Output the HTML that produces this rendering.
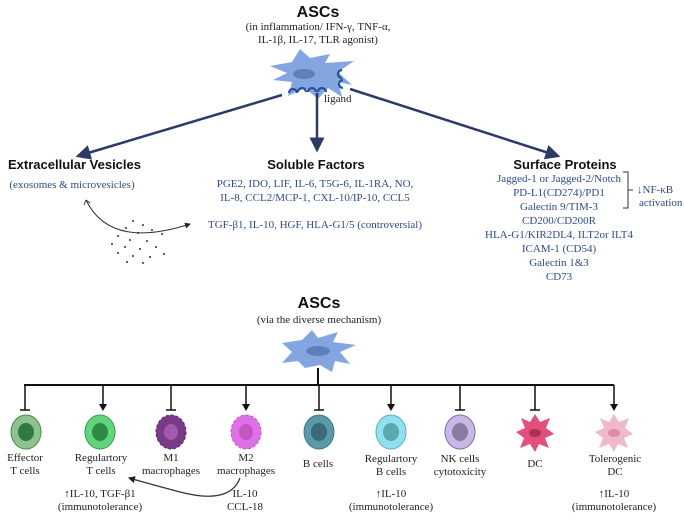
<!DOCTYPE html>
<html><head><meta charset="utf-8"><style>
body{margin:0;background:#fff}
svg{display:block}
.s{font-family:"Liberation Serif",serif;font-size:11px;fill:#2d4a86}
.k{font-family:"Liberation Serif",serif;font-size:11px;fill:#222}
.h{font-family:"Liberation Sans",sans-serif;font-weight:bold;font-size:13px;fill:#111}
</style></head><body>
<svg width="684" height="519" viewBox="0 0 684 519" xmlns="http://www.w3.org/2000/svg">
<defs>
<marker id="a" markerWidth="6" markerHeight="6" refX="5" refY="3" orient="auto"><path d="M0,0 L6,3 L0,6z" fill="#2c3a66"/></marker>
<marker id="b" markerWidth="6" markerHeight="6" refX="5" refY="3" orient="auto"><path d="M0,0 L6,3 L0,6z" fill="#222"/></marker>
</defs>
<text x="318" y="17" text-anchor="middle" class="h" style="font-size:16px">ASCs</text>
<text x="318" y="30" text-anchor="middle" class="k">(in inflammation/ IFN-γ, TNF-α,</text>
<text x="318" y="43" text-anchor="middle" class="k">IL-1β, IL-17, TLR agonist)</text>
<path d="M270,66 L292,62 L300,49 L310,58 L330,54 L325,63 L354,61 L338,72 L352,85 L338,82 L342,97 L328,88 L318,99 L305,88 L288,96 L292,82 L273,80 L287,73z" fill="#84a6e0"/>
<ellipse cx="304" cy="74" rx="11" ry="5" fill="#5f7fb8"/>
<g fill="none" stroke="#2a4f9a" stroke-width="2.2">
<path d="M289,93 a4,4 0 0 1 8,0"/><path d="M298,92 a4,4 0 0 1 8,0"/><path d="M308,92 a4,4 0 0 1 8,0"/><path d="M318,92 a4,4 0 0 1 8,0"/><path d="M342,70 a4,4 0 0 0 0,8"/><path d="M343,80 a4,4 0 0 0 0,8"/>
</g>
<text x="324" y="102" class="k">ligand</text>
<g stroke="#2c3a66" stroke-width="2.5" marker-end="url(#a)">
<line x1="282" y1="95" x2="78" y2="156"/>
<line x1="317" y1="93" x2="317" y2="150"/>
<line x1="350" y1="89" x2="558" y2="156"/>
</g>
<text x="8" y="169" class="h">Extracellular Vesicles</text>
<text x="316" y="169" text-anchor="middle" class="h">Soluble Factors</text>
<text x="565" y="169" text-anchor="middle" class="h">Surface Proteins</text>
<text x="72" y="188" text-anchor="middle" class="s">(exosomes &amp; microvesicles)</text>
<text x="315" y="187" text-anchor="middle" class="s">PGE2, IDO, LIF, IL-6, T5G-6, IL-1RA, NO,</text>
<text x="315" y="201" text-anchor="middle" class="s">IL-8, CCL2/MCP-1, CXL-10/IP-10, CCL5</text>
<text x="315" y="228" text-anchor="middle" class="s">TGF-β1, IL-10, HGF, HLA-G1/5 (controversial)</text>
<g class="s" text-anchor="middle">
<text x="559" y="182">Jagged-1 or Jagged-2/Notch</text>
<text x="559" y="196">PD-L1(CD274)/PD1</text>
<text x="559" y="210">Galectin 9/TIM-3</text>
<text x="559" y="224">CD200/CD200R</text>
<text x="559" y="238">HLA-G1/KIR2DL4, ILT2or ILT4</text>
<text x="559" y="252">ICAM-1 (CD54)</text>
<text x="559" y="266">Galectin 1&amp;3</text>
<text x="559" y="280">CD73</text>
</g>
<path d="M623,172 H628 V208 H623 M628,190 H633" fill="none" stroke="#333" stroke-width="1"/>
<text x="637" y="193" class="s">↓NF-κB</text>
<text x="639" y="206" class="s">activation</text>
<path d="M86,200 Q110,250 190,224" fill="none" stroke="#333" stroke-width="1" marker-end="url(#b)"/>
<path d="M86,200 l-2,5 M86,200 l4,3" stroke="#333" fill="none"/>
<g fill="#333">
<circle cx="133" cy="221" r="1"/><circle cx="143" cy="225" r="1"/><circle cx="126" cy="228" r="1"/><circle cx="152" cy="230" r="1"/><circle cx="138" cy="233" r="1"/><circle cx="162" cy="234" r="1"/><circle cx="118" cy="236" r="1"/><circle cx="130" cy="240" r="1"/><circle cx="147" cy="241" r="1"/><circle cx="112" cy="244" r="1"/><circle cx="125" cy="247" r="1"/><circle cx="140" cy="249" r="1"/><circle cx="156" cy="247" r="1"/><circle cx="118" cy="253" r="1"/><circle cx="133" cy="256" r="1"/><circle cx="150" cy="257" r="1"/><circle cx="164" cy="254" r="1"/><circle cx="127" cy="262" r="1"/><circle cx="143" cy="263" r="1"/>
</g>
<text x="319" y="308" text-anchor="middle" class="h" style="font-size:16px">ASCs</text>
<text x="319" y="323" text-anchor="middle" class="k">(via the diverse mechanism)</text>
<path d="M282,343 L302,340 L312,330 L318,338 L338,332 L333,342 L356,345 L340,352 L350,364 L335,361 L332,372 L320,365 L305,368 L298,361 L282,363 L292,352z" fill="#84a6e0"/>
<ellipse cx="318" cy="351" rx="12" ry="5" fill="#5f7fb8"/>
<g stroke="#111" stroke-width="2" fill="none">
<line x1="318" y1="368" x2="318" y2="386"/>
<line x1="24" y1="385" x2="614" y2="385"/>
</g>
<g stroke="#111" stroke-width="1.5">
<line x1="25" y1="385" x2="25" y2="410"/><line x1="20" y1="410" x2="30" y2="410"/>
<line x1="171" y1="385" x2="171" y2="410"/><line x1="166" y1="410" x2="176" y2="410"/>
<line x1="319" y1="385" x2="319" y2="410"/><line x1="314" y1="410" x2="324" y2="410"/>
<line x1="460" y1="385" x2="460" y2="410"/><line x1="455" y1="410" x2="465" y2="410"/>
<line x1="535" y1="385" x2="535" y2="410"/><line x1="530" y1="410" x2="540" y2="410"/>
<line x1="103" y1="385" x2="103" y2="405"/><line x1="246" y1="385" x2="246" y2="405"/>
<line x1="391" y1="385" x2="391" y2="405"/><line x1="614" y1="385" x2="614" y2="405"/>
</g>
<g fill="#111">
<path d="M99,404 L107,404 L103,411z"/><path d="M242,404 L250,404 L246,411z"/><path d="M387,404 L395,404 L391,411z"/><path d="M610,404 L618,404 L614,411z"/>
</g>
<ellipse cx="26" cy="432" rx="15" ry="17" fill="#8fc08f" stroke="#4a8a4a"/><ellipse cx="26" cy="432" rx="8" ry="9" fill="#2f7a3f"/>
<ellipse cx="100" cy="432" rx="15" ry="17" fill="#5fd57a" stroke="#3a9a50"/><ellipse cx="100" cy="432" rx="8" ry="9" fill="#2f8a45"/>
<ellipse cx="171" cy="432" rx="15" ry="17" fill="#7a3a8a" stroke="#5a2a6a" stroke-dasharray="3 2"/><ellipse cx="171" cy="432" rx="7" ry="8" fill="#a05aa8"/>
<ellipse cx="246" cy="432" rx="15" ry="17" fill="#e070e8" stroke="#c050c8" stroke-dasharray="3 2"/><ellipse cx="246" cy="432" rx="7" ry="8" fill="#c555c5"/>
<ellipse cx="319" cy="432" rx="15" ry="17" fill="#5a9aa8" stroke="#3a7a88"/><ellipse cx="319" cy="432" rx="8" ry="9" fill="#3a6a78"/>
<ellipse cx="391" cy="432" rx="15" ry="17" fill="#90e0f0" stroke="#5ab0c0"/><ellipse cx="391" cy="432" rx="8" ry="9" fill="#5aa8b0"/>
<ellipse cx="460" cy="432" rx="15" ry="17" fill="#c8b8e8" stroke="#7a6aa0"/><ellipse cx="460" cy="432" rx="8" ry="9" fill="#8a7aa0"/>
<path d="M535,414 L540,422 L550,418 L546,428 L554,434 L545,438 L549,448 L539,444 L535,452 L530,444 L520,448 L524,438 L516,432 L525,428 L521,418 L530,422z" fill="#e0507a"/><ellipse cx="535" cy="433" rx="6" ry="4" fill="#b03058"/>
<path d="M614,414 L619,422 L629,418 L625,428 L633,434 L624,438 L628,448 L618,444 L614,452 L609,444 L599,448 L603,438 L595,432 L604,428 L600,418 L609,422z" fill="#f0b8cc"/><ellipse cx="614" cy="433" rx="6" ry="4" fill="#e08aa8"/>
<g class="k" text-anchor="middle">
<text x="25" y="461">Effector</text><text x="25" y="474">T cells</text>
<text x="101" y="461">Regulartory</text><text x="101" y="474">T cells</text>
<text x="171" y="461">M1</text><text x="171" y="474">macrophages</text>
<text x="246" y="461">M2</text><text x="246" y="474">macrophages</text>
<text x="318" y="467">B cells</text>
<text x="391" y="462">Regulartory</text><text x="391" y="475">B cells</text>
<text x="460" y="462">NK cells</text><text x="460" y="475">cytotoxicity</text>
<text x="535" y="467">DC</text>
<text x="615" y="462">Tolerogenic</text><text x="615" y="475">DC</text>
<text x="100" y="497">↑IL-10, TGF-β1</text><text x="100" y="510">(immunotolerance)</text>
<text x="245" y="497">IL-10</text><text x="245" y="510">CCL-18</text>
<text x="391" y="497">↑IL-10</text><text x="391" y="510">(immunotolerance)</text>
<text x="614" y="497">↑IL-10</text><text x="614" y="510">(immunotolerance)</text>
</g>
<path d="M240,478 Q230,505 180,492 Q150,484 129,478" fill="none" stroke="#333" stroke-width="1.2" marker-end="url(#b)"/>
</svg>
</body></html>
